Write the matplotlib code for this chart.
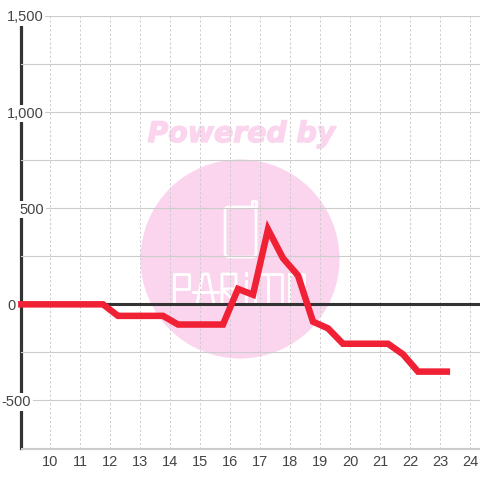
"""Linea horaria con marca de agua rosa."""
import matplotlib
matplotlib.use("Agg")
import matplotlib.patheffects as pe
import matplotlib.pyplot as plt
from matplotlib.lines import Line2D
from matplotlib.patches import Circle, FancyBboxPatch
from matplotlib.transforms import ScaledTranslation

# --- Data ---
HOURS = [8.92, 9.25, 9.75, 10.25, 10.75, 11.25, 11.75, 12.25, 12.75, 13.25, 13.75,
         14.25, 14.75, 15.25, 15.75, 16.25, 16.75, 17.25, 17.75, 18.25, 18.75,
         19.25, 19.75, 20.25, 20.75, 21.25, 21.75, 22.25, 22.75, 23.32]
VALUES = [0, 0, 0, 0, 0, 0, 0, -60, -60, -60, -60,
          -105, -105, -105, -105, 80, 50, 390, 240, 150, -90,
          -125, -205, -205, -205, -205, -260, -350, -350, -350]
X_TICKS = list(range(10, 25))
Y_TICKS = [-500, 0, 500, 1000, 1500]
Y_MINOR = [-750, -250, 250, 750, 1250]
Y_LABELS = ["-500", "0", "500", "1,000", "1,500"]

# --- Config ---
C_LINE = "#F02035"
C_AXIS = "#333333"
C_GRID = "#CCCCCC"
C_TEXT = "#444444"
C_MARK = "#FBD5EE"
W = H = 480
DPI = 100
# borde derecho de cada etiqueta del eje y, en px
LABEL_RIGHT = [31, 16, 44, 43.5, 43.5]

# Trazos del logo, en px de la imagen
LOGO_STROKES = [
    [(174, 304), (174, 274), (189, 274), (189, 289), (174, 289)],  # P
    [(197, 304), (203, 274), (208, 274), (214, 304)],  # A
    [(193, 292), (218, 292)],
    [(222, 304), (222, 274), (236, 274), (236, 289), (222, 289), (237, 304)],  # R
    [(246, 281), (246, 304)],  # i
    [(246, 273), (246, 275)],
    [(255, 304), (255, 274), (282, 274), (282, 304)],  # M
    [(268, 274), (268, 304)],
    [(289, 274), (304, 274), (304, 304), (289, 304), (289, 274)],  # O
    [(256, 207), (256, 201), (252, 201), (252, 207)],  # pestana del icono
]

plt.rcParams.update({
    "font.family": ["Liberation Sans", "DejaVu Sans"],
    "font.size": 10.5,
})


def px_x(px):
    return px / W


def px_y(px):
    return 1 - px / H


fig = plt.figure(figsize=(W / DPI, H / DPI), dpi=DPI, facecolor="white")
ax = fig.add_axes([20.5 / W, 1 - 448.5 / H, 459.5 / W, 432.5 / H])
ax.set_xlim(9, 24.317)
ax.set_ylim(-750, 1500)
ax.patch.set_visible(False)

# Marca de agua (coordenadas de figura)
fig.add_artist(Circle((px_x(240), px_y(259)), 99.5 / W, color=C_MARK, lw=0, zorder=-5))
fig.text(px_x(241.5), px_y(134), "Powered by", family="DejaVu Sans", weight="bold",
         style="oblique", size=20.4, color=C_MARK, ha="center", va="center", zorder=-5,
         path_effects=[pe.withStroke(linewidth=1.0, foreground=C_MARK)])
fig.add_artist(FancyBboxPatch((px_x(225), px_y(257)), 31 / W, 50 / H,
                              boxstyle="round,pad=0,rounding_size=0.008",
                              fc="none", ec="white", lw=1.9, zorder=-4))
for stroke in LOGO_STROKES:
    xs, ys = zip(*stroke)
    fig.add_artist(Line2D([px_x(v) for v in xs], [px_y(v) for v in ys],
                          color="white", lw=2.0, zorder=-4))

# Rejilla y ejes
ax.set_axisbelow(True)
ax.set_xticks(X_TICKS)
ax.set_yticks(Y_TICKS, labels=Y_LABELS)
ax.set_yticks(Y_MINOR, minor=True)
ax.grid(True, axis="x", color=C_GRID, lw=0.72, ls=(0, (2.2, 2.2)))
ax.grid(True, axis="y", which="both", color=C_GRID, lw=0.8)
ax.tick_params(axis="both", which="both", length=0, labelcolor=C_TEXT, labelsize=10.5)
ax.tick_params(axis="x", pad=4.5)

for side in ["top", "right"]:
    ax.spines[side].set_visible(False)
ax.spines["bottom"].set_color(C_GRID)
ax.spines["bottom"].set_linewidth(0.8)
ax.spines["left"].set_color(C_AXIS)
ax.spines["left"].set_linewidth(2.3)
ax.spines["left"].set_zorder(0.3)

# Etiquetas y: fondo blanco que corta el eje
ax.tick_params(axis="y", pad=0)
for lab, right in zip(ax.get_yticklabels(), LABEL_RIGHT):
    dx = (right - 20.5) / DPI
    lab.set_transform(lab.get_transform() + ScaledTranslation(dx, 0, fig.dpi_scale_trans))
    lab.set_bbox(dict(facecolor="white", edgecolor="none", pad=1.2))

ax.axhline(0, color=C_AXIS, lw=2.2, zorder=3)
ax.plot(HOURS, VALUES, color=C_LINE, lw=4.7, solid_capstyle="butt",
        solid_joinstyle="miter", clip_on=False, zorder=4)

fig.savefig("out.png", dpi=DPI)
